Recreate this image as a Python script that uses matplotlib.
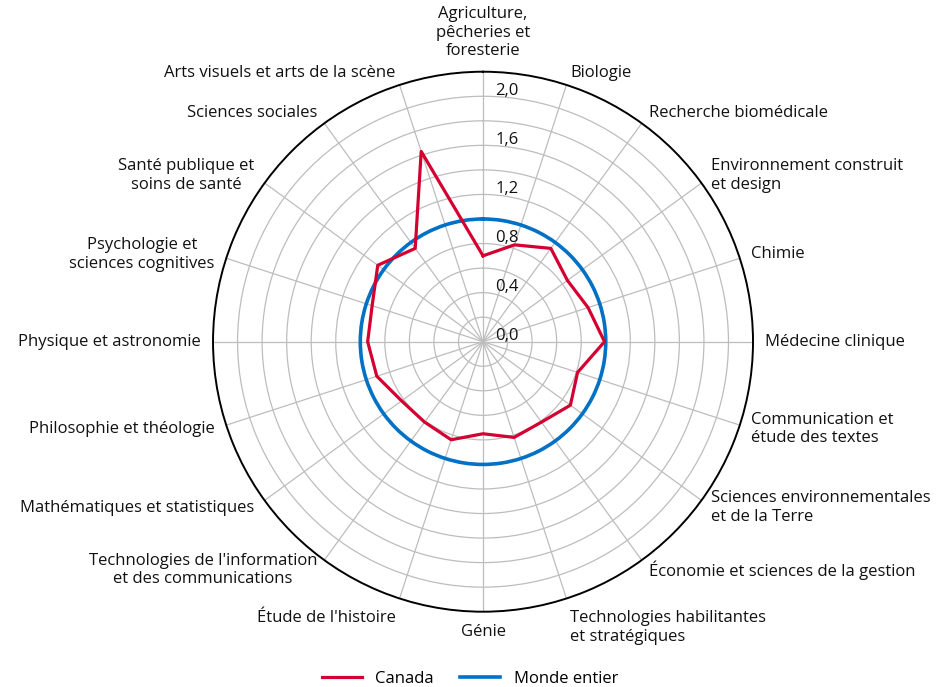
import numpy as np
import matplotlib.pyplot as plt

plt.rcParams['font.family'] = ['Open Sans', 'DejaVu Sans']

# -------- Data --------
categories = [
    "Agriculture,\npêcheries et\nforesterie",
    "Biologie",
    "Recherche biomédicale",
    "Environnement construit\net design",
    "Chimie",
    "Médecine clinique",
    "Communication et\nétude des textes",
    "Sciences environnementales\net de la Terre",
    "Économie et sciences de la gestion",
    "Technologies habilitantes\net stratégiques",
    "Génie",
    "Étude de l'histoire",
    "Technologies de l'information\net des communications",
    "Mathématiques et statistiques",
    "Philosophie et théologie",
    "Physique et astronomie",
    "Psychologie et\nsciences cognitives",
    "Santé publique et\nsoins de santé",
    "Sciences sociales",
    "Arts visuels et arts de la scène",
]
canada = [0.70, 0.83, 0.94, 0.85, 0.90, 0.99, 0.81, 0.88, 0.81, 0.82,
          0.75, 0.84, 0.81, 0.82, 0.91, 0.94, 0.95, 1.06, 0.94, 1.63]
monde = [1.0] * 20

rgrid = [0.2, 0.4, 0.6, 0.8, 1.0, 1.2, 1.4, 1.6, 1.8, 2.0]
rlabels = ["0,0", "0,4", "0,8", "1,2", "1,6", "2,0"]
rlabel_vals = [0.0, 0.4, 0.8, 1.2, 1.6, 2.0]
rmax = 2.2

red = "#D50032"
blue = "#0071C5"

# -------- Plot --------
fig = plt.figure(figsize=(9.4, 6.87), dpi=100)
ax = fig.add_axes([0.2266, 0.1096, 0.5745, 0.786], projection="polar")
ax.set_theta_zero_location("N")
ax.set_theta_direction(-1)

n = len(categories)
theta = np.arange(n) * 2 * np.pi / n
theta_c = np.append(theta, 2 * np.pi)

ax.set_ylim(0, rmax)
ax.set_rgrids(rgrid, labels=[""] * len(rgrid))
ax.set_thetagrids(np.degrees(theta), labels=[""] * n)
ax.grid(True, color="#bdbdbd", linewidth=0.9)
ax.spines["polar"].set_color("black")
ax.spines["polar"].set_linewidth(1.4)
ax.tick_params(length=0)

line_m, = ax.plot(theta_c, monde + monde[:1], color=blue, linewidth=2.6,
                  label="Monde entier", zorder=3)
line_m.get_path()._interpolation_steps = 40
ax.plot(theta_c, canada + canada[:1], color=red, linewidth=2.3,
        label="Canada", zorder=4)

# radial value labels
for v, lab in zip(rlabel_vals, rlabels):
    ax.annotate(lab, xy=(0, v), xytext=(9, 1), textcoords="offset points",
                ha="left", va="baseline", fontsize=12, color="#111111")

# category labels
for t, lab in zip(theta, categories):
    s, c = np.sin(t), np.cos(t)
    if abs(s) < 0.05:
        ha = "center"
        va = "bottom" if c > 0 else "top"
    else:
        ha = "left" if s > 0 else "right"
        va = "center"
        if c < -0.9:
            va = "top"
    ma = "left" if s > 0.05 else "center"
    ax.text(t, 2.30, lab, ha=ha, va=va, multialignment=ma, fontsize=12,
            color="#111111", linespacing=1.22)

handles, labels = ax.get_legend_handles_labels()
fig.legend(handles[::-1], labels[::-1], loc="lower center", ncol=2,
           frameon=False, fontsize=12, handlelength=2.4, columnspacing=1.6,
           bbox_to_anchor=(0.5, -0.022))

fig.savefig("out.png", dpi=100)
